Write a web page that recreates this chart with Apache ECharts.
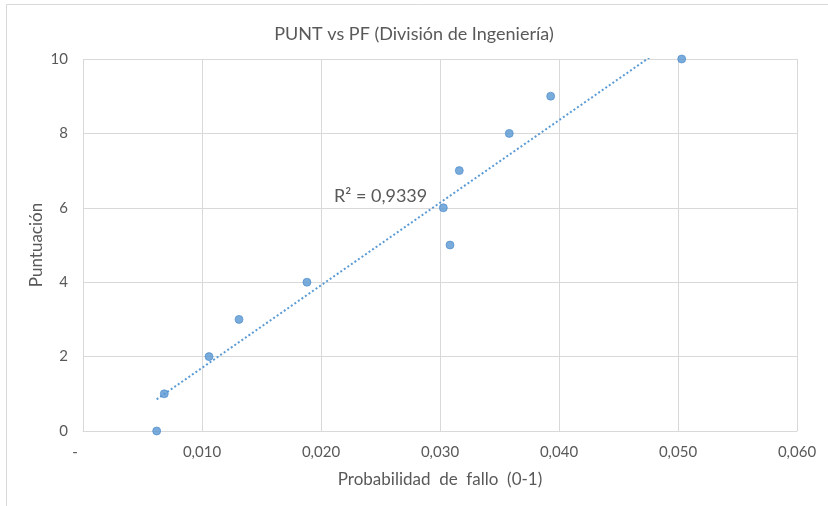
<!DOCTYPE html>
<html>
<head>
<meta charset="utf-8">
<title>PUNT vs PF</title>
<script src="https://cdn.jsdelivr.net/npm/echarts@6/dist/echarts.min.js"></script>
<style>
  html, body { margin: 0; padding: 0; background: #ffffff; }
  #chart { width: 828px; height: 506px; }
</style>
</head>
<body>
<div id="chart"></div>
<script>
// Probabilidad de fallo (0-1) per puntuación
const probFallo = [0.00619, 0.00683, 0.01059, 0.01311, 0.01882, 0.03084, 0.03028, 0.03162, 0.03582, 0.03930, 0.05031];
const puntuacion = [0, 1, 2, 3, 4, 5, 6, 7, 8, 9, 10];
const xTicks = { min: 0, max: 0.06, step: 0.01 };
const yTicks = { min: 0, max: 10, step: 2 };
const r2Text = 'R² = 0,9339';

const FONT = 'Lato';
const GREY = '#595959';
const BLUE = '#5b9bd5';

// least-squares linear trend over the points
const n = probFallo.length;
const mx = probFallo.reduce((a, b) => a + b, 0) / n;
const my = puntuacion.reduce((a, b) => a + b, 0) / n;
let sxy = 0, sxx = 0;
for (let i = 0; i < n; i++) {
  sxy += (probFallo[i] - mx) * (puntuacion[i] - my);
  sxx += (probFallo[i] - mx) ** 2;
}
const slope = sxy / sxx;
const intercept = my - slope * mx;
const xLo = Math.min(...probFallo);
const xHi = Math.max(...probFallo);
const trend = [[xLo, intercept + slope * xLo], [xHi, intercept + slope * xHi]];

const chart = echarts.init(document.getElementById('chart'));
chart.setOption({
  animation: false,
  backgroundColor: '#ffffff',
  title: {
    text: 'PUNT vs PF (División de Ingeniería)',
    left: 'center',
    top: 20,
    textStyle: { fontFamily: FONT, fontSize: 18, fontWeight: 'normal', color: GREY }
  },
  graphic: [
    {
      type: 'rect',
      shape: { x: 6.5, y: 4.5, width: 900, height: 600 },
      style: { fill: 'none', stroke: '#d9d9d9', lineWidth: 1 },
      silent: true
    },
    {
      type: 'text',
      left: 334,
      top: 187,
      style: { text: r2Text, fontFamily: FONT, fontSize: 18, fill: GREY }
    }
  ],
  grid: { left: 83, right: 31, top: 59, bottom: 75 },
  xAxis: {
    type: 'value',
    min: xTicks.min,
    max: xTicks.max,
    interval: xTicks.step,
    name: 'Probabilidad  de  fallo  (0-1)',
    nameLocation: 'middle',
    nameGap: 40,
    nameTextStyle: { fontFamily: FONT, fontSize: 17, color: GREY },
    axisLine: { show: true, lineStyle: { color: '#d9d9d9' } },
    axisTick: { show: false },
    splitLine: { show: true, lineStyle: { color: '#d9d9d9' } },
    axisLabel: {
      margin: 14,
      fontFamily: FONT,
      fontSize: 15,
      color: GREY,
      formatter: v => Math.abs(v) < 1e-9 ? '{d|-}' : v.toFixed(3).replace('.', ','),
      rich: { d: { padding: [0, 16, 0, 0], fontFamily: FONT, fontSize: 15, color: GREY } }
    }
  },
  yAxis: {
    type: 'value',
    min: yTicks.min,
    max: yTicks.max,
    interval: yTicks.step,
    name: 'Puntuación',
    nameLocation: 'middle',
    nameGap: 38,
    nameMoveOverlap: false,
    nameTextStyle: { fontFamily: FONT, fontSize: 17, color: GREY },
    axisLine: { show: false },
    axisTick: { show: false },
    splitLine: { show: true, lineStyle: { color: '#d9d9d9' } },
    axisLabel: { margin: 15, fontFamily: FONT, fontSize: 15, color: GREY }
  },
  series: [
    {
      type: 'scatter',
      data: probFallo.map((x, i) => [x, puntuacion[i]]),
      symbolSize: 8,
      itemStyle: { color: '#5896d2', borderColor: '#4a8acb', borderWidth: 0.8 },
      z: 3
    },
    {
      type: 'line',
      data: trend,
      symbol: 'none',
      clip: true,
      lineStyle: { color: BLUE, width: 2, type: [2, 2.3] },
      z: 2
    }
  ]
});
</script>
</body>
</html>
